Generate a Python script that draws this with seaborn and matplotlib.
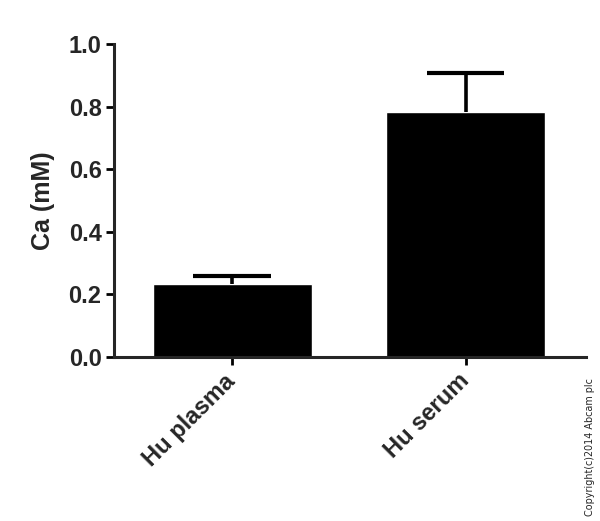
import pandas as pd
import numpy as np
import matplotlib
matplotlib.use('Agg')
import matplotlib.pyplot as plt
import matplotlib.transforms as mtransforms
import seaborn as sns

# Data
samples = ['Hu plasma', 'Hu serum']
ca_mean = [0.232, 0.782]
ca_err = [0.028, 0.126]
y_ticks = [0.0, 0.2, 0.4, 0.6, 0.8, 1.0]

sns.set_style('ticks')
plt.rcParams['font.family'] = ['Liberation Sans', 'DejaVu Sans']
plt.rcParams['font.weight'] = 'bold'

df = pd.DataFrame({'sample': samples, 'ca': ca_mean})

fig = plt.figure(figsize=(6.0, 5.21), dpi=100)
ax = fig.add_axes([0.19, 0.315, 0.787, 0.6])

sns.barplot(data=df, x='sample', y='ca', color='black', width=0.68,
            saturation=1, errorbar=None, ax=ax)

# one-sided (upper) error bars: stem + cap
xs = np.arange(len(samples))
tops = np.array(ca_mean) + np.array(ca_err)
ax.vlines(xs, ca_mean, tops, color='black', linewidth=2.6)
ax.hlines(tops, xs - 0.165, xs + 0.165, color='black', linewidth=3)

ax.set_ylim(0, 1.0)
ax.set_xlim(-0.505, 1.515)

for side in ['top', 'right']:
    ax.spines[side].set_visible(False)
for side in ['left', 'bottom']:
    ax.spines[side].set_linewidth(2.2)
ax.tick_params(axis='both', width=2.0, length=6, color='black', pad=3)

ax.set_yticks(y_ticks)
ax.set_yticklabels([f'{t:.1f}' for t in y_ticks], fontsize=17, fontweight='bold')
ax.set_xticks(xs)
ax.set_xticklabels(samples, fontsize=17, fontweight='bold',
                   rotation=45, ha='right', rotation_mode='anchor')
# nudge rotated labels a bit to the left, like the original
shift = mtransforms.ScaledTranslation(-6 / 72, 0, fig.dpi_scale_trans)
for lbl in ax.get_xticklabels():
    lbl.set_transform(lbl.get_transform() + shift)
ax.set_xlabel('')
ax.set_ylabel('Ca (mM)', fontsize=18, fontweight='bold', labelpad=10)

fig.text(0.984, 0.01, 'Copyright(c)2014 Abcam plc', rotation=90,
         fontsize=6.9, fontweight='normal', ha='center', va='bottom',
         family=['DejaVu Sans'])

plt.savefig('out.png', dpi=100)
plt.close('all')
